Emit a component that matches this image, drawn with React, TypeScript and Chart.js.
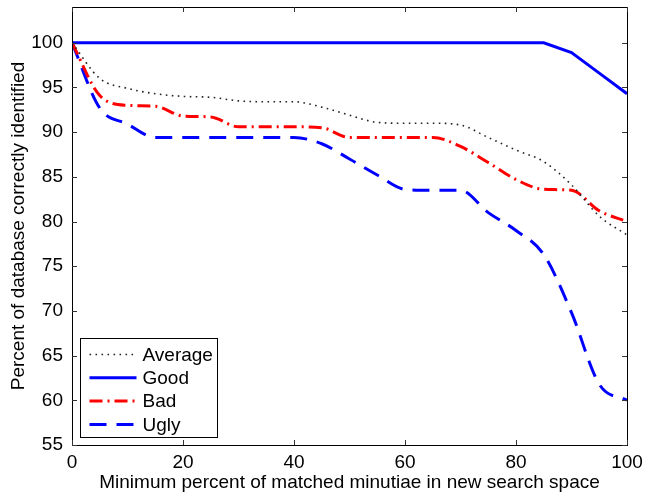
import React, { useEffect, useRef } from "react";
import { Chart, registerables } from "chart.js";

Chart.register(...registerables);

const xValues = [0, 5, 10, 15, 20, 25, 30, 35, 40, 45, 50, 55, 60, 65, 70, 75, 80, 85, 90, 95, 100];
const averageValues = [100, 96.0, 94.9, 94.3, 94.0, 93.9, 93.5, 93.4, 93.4, 92.8, 91.9, 91.1, 91.0, 91.0, 90.8, 89.4, 88.0, 86.7, 84.1, 80.6, 78.5];
const goodValues = [100, 100, 100, 100, 100, 100, 100, 100, 100, 100, 100, 100, 100, 100, 100, 100, 100, 100, 98.9, 96.6, 94.3];
const badValues = [100, 94.1, 93.0, 92.9, 91.8, 91.7, 90.6, 90.6, 90.6, 90.5, 89.4, 89.4, 89.4, 89.4, 88.4, 86.6, 84.7, 83.6, 83.5, 81.2, 80.0];
const uglyValues = [100, 92.7, 90.9, 89.4, 89.4, 89.4, 89.4, 89.4, 89.4, 88.7, 87.0, 85.2, 83.6, 83.5, 83.5, 81.0, 79.0, 76.3, 69.8, 61.8, 60.0];
const seriesNames = ["Average", "Good", "Bad", "Ugly"];
const xTicks = [0, 20, 40, 60, 80, 100];
const yTicks = [55, 60, 65, 70, 75, 80, 85, 90, 95, 100];
const xTitle = "Minimum percent of matched minutiae in new search space";
const yTitle = "Percent of database correctly identified";

const FONT = '"Liberation Sans", Arial, Helvetica, sans-serif';
const FS = 19;

const frameAndTicks = {
  id: "frameAndTicks",
  afterDatasetsDraw(chart: any) {
    const { ctx, chartArea: a, scales } = chart;
    ctx.save();
    ctx.strokeStyle = "#000";
    ctx.lineWidth = 1;
    ctx.setLineDash([]);
    ctx.strokeRect(Math.round(a.left) + 0.5, Math.round(a.top) + 0.5, Math.round(a.right - a.left), Math.round(a.bottom - a.top));
    const tl = 5;
    ctx.strokeStyle = "#333";
    ctx.beginPath();
    for (const v of xTicks) {
      const x = Math.round(scales.x.getPixelForValue(v)) + 0.5;
      ctx.moveTo(x, a.bottom);
      ctx.lineTo(x, a.bottom - tl);
      ctx.moveTo(x, a.top);
      ctx.lineTo(x, a.top + tl);
    }
    for (const v of yTicks) {
      const y = Math.round(scales.y.getPixelForValue(v)) + 0.5;
      ctx.moveTo(a.left, y);
      ctx.lineTo(a.left + tl, y);
      ctx.moveTo(a.right, y);
      ctx.lineTo(a.right - tl, y);
    }
    ctx.stroke();
    ctx.restore();
  },
};

const insideLegend = {
  id: "insideLegend",
  afterDraw(chart: any) {
    const { ctx, chartArea: a } = chart;
    const left = Math.round(a.left + 8) + 0.5;
    const bottom = Math.round(a.bottom - 8) + 0.5;
    const w = 137;
    const h = 99;
    const top = bottom - h;
    ctx.save();
    ctx.fillStyle = "#fff";
    ctx.fillRect(left, top, w, h);
    ctx.strokeStyle = "#000";
    ctx.lineWidth = 1;
    ctx.setLineDash([]);
    ctx.strokeRect(left, top, w, h);
    ctx.font = `${FS}px ${FONT}`;
    ctx.textBaseline = "middle";
    ctx.textAlign = "left";
    chart.data.datasets.forEach((ds: any, i: number) => {
      const y = top + 16 + i * 23.3;
      ctx.beginPath();
      ctx.strokeStyle = ds.borderColor;
      ctx.lineWidth = ds.borderWidth;
      ctx.setLineDash(ds.borderDash || []);
      ctx.moveTo(left + 9, y);
      ctx.lineTo(left + 56, y);
      ctx.stroke();
      ctx.setLineDash([]);
      ctx.fillStyle = "#000";
      ctx.fillText(ds.label, left + 62, y + 1);
    });
    ctx.restore();
  },
};

function toPoints(vals: number[]) {
  return xValues.map((x, i) => ({ x, y: vals[i] }));
}

function zeroPad(s: any) {
  s.paddingTop = 0;
  s.paddingBottom = 0;
  s.paddingLeft = 0;
  s.paddingRight = 0;
}

export default function App() {
  const ref = useRef<HTMLCanvasElement | null>(null);
  useEffect(() => {
    if (!ref.current) return;
    const chart = new Chart(ref.current, {
      type: "line",
      data: {
        datasets: [
          {
            label: seriesNames[0],
            data: toPoints(averageValues),
            borderColor: "#222",
            borderWidth: 1.6,
            borderDash: [1.6, 4.4],
            cubicInterpolationMode: "monotone",
            pointRadius: 0,
          },
          {
            label: seriesNames[1],
            data: toPoints(goodValues),
            borderColor: "#0000ff",
            borderWidth: 3,
            tension: 0,
            pointRadius: 0,
          },
          {
            label: seriesNames[2],
            data: toPoints(badValues),
            borderColor: "#ff0000",
            borderWidth: 3,
            borderDash: [13, 5, 2, 5],
            cubicInterpolationMode: "monotone",
            pointRadius: 0,
          },
          {
            label: seriesNames[3],
            data: toPoints(uglyValues),
            borderColor: "#0000ff",
            borderWidth: 3,
            borderDash: [17, 10],
            cubicInterpolationMode: "monotone",
            pointRadius: 0,
          },
        ] as any,
      },
      options: {
        animation: false,
        responsive: false,
        devicePixelRatio: 1,
        layout: { padding: { top: 7, right: 18, left: 0, bottom: 0 } },
        plugins: { legend: { display: false }, tooltip: { enabled: false } },
        scales: {
          x: {
            type: "linear",
            min: 0,
            max: 100,
            grid: { display: false, drawTicks: false },
            border: { display: false },
            afterBuildTicks: (s: any) => {
              s.ticks = xTicks.map((v) => ({ value: v }));
            },
            afterFit: (s: any) => {
              s.height = 49;
              zeroPad(s);
            },
            ticks: {
              color: "#000",
              font: { family: FONT, size: FS },
              padding: 6,
              maxRotation: 0,
              autoSkip: false,
            },
            title: {
              display: true,
              text: xTitle,
              color: "#000",
              font: { family: FONT, size: FS },
              padding: { top: 0, bottom: 0 },
            },
          },
          y: {
            type: "linear",
            min: 55,
            max: 104,
            grid: { display: false, drawTicks: false },
            border: { display: false },
            afterBuildTicks: (s: any) => {
              s.ticks = yTicks.map((v) => ({ value: v }));
            },
            afterFit: (s: any) => {
              s.width = 72;
              zeroPad(s);
            },
            ticks: {
              color: "#000",
              font: { family: FONT, size: FS },
              padding: 9,
              autoSkip: false,
            },
            title: {
              display: true,
              text: yTitle,
              color: "#000",
              font: { family: FONT, size: FS },
              padding: { top: 7, bottom: 0 },
            },
          },
        },
      },
      plugins: [frameAndTicks, insideLegend],
    });
    return () => chart.destroy();
  }, []);
  return (
    <div style={{ position: "fixed", left: 0, top: 0, width: 645, height: 494, background: "#fff" }}>
      <canvas ref={ref} width={645} height={494} />
    </div>
  );
}
